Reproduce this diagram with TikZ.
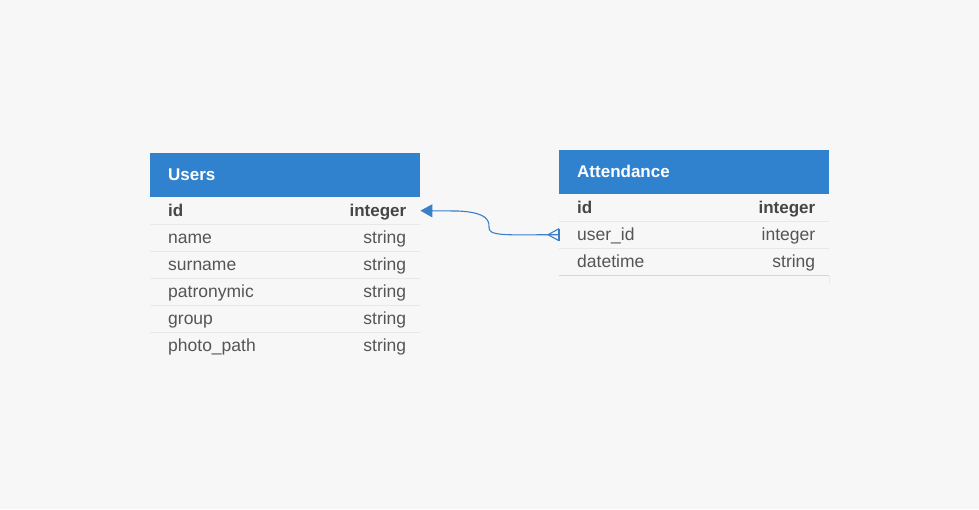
\documentclass[tikz,border=0pt]{standalone}
\usepackage{fontspec}
\setmainfont{Liberation Sans}
\usetikzlibrary{arrows.meta,calc}
\definecolor{bg}{RGB}{247,247,247}
\definecolor{hdr}{RGB}{49,130,206}
\definecolor{txt}{RGB}{85,85,85}
\definecolor{txtb}{RGB}{70,70,70}
\definecolor{sepc}{RGB}{232,232,232}
\definecolor{conn}{RGB}{58,127,200}
\definecolor{lblue}{RGB}{197,217,240}
\begin{document}
\begin{tikzpicture}[x=1pt,y=-1pt,
  hdrbox/.style={fill=hdr,draw=none,minimum width=270pt,minimum height=44pt,anchor=north west,inner sep=0pt},
  hdrtxt/.style={anchor=base west,text=white,font=\fontsize{17}{20}\selectfont\bfseries,inner sep=0pt},
  rowbox/.style={draw=none,minimum width=270pt,minimum height=27pt,anchor=north west,inner sep=0pt},
  lbl/.style={anchor=base west,text=txt,font=\fontsize{17.5}{20}\selectfont,inner sep=0pt},
  typ/.style={anchor=base east,text=txt,font=\fontsize{17.5}{20}\selectfont,inner sep=0pt},
  lblb/.style={anchor=base west,text=txtb,font=\fontsize{17}{20}\selectfont\bfseries,inner sep=0pt},
  typb/.style={anchor=base east,text=txtb,font=\fontsize{17}{20}\selectfont\bfseries,inner sep=0pt},
  sep/.style={draw=sepc,line width=0.8pt},
  connline/.style={draw=conn,line width=1.1pt}
]
\fill[bg] (0,0) rectangle (979,509);
\useasboundingbox (0,0) rectangle (979,509);

% Users table
\node[hdrbox] (uh) at (150,153) {};
\node[hdrtxt] (uht) at ($(uh.west)+(18,5)$) {Users};
\node[rowbox] (u1) at (150,197) {};
\node[rowbox] (u2) at (150,224) {};
\node[rowbox] (u3) at (150,251) {};
\node[rowbox] (u4) at (150,278) {};
\node[rowbox] (u5) at (150,305) {};
\node[rowbox] (u6) at (150,332) {};
\foreach \r in {u1,u2,u3,u4,u5} \draw[sep] (\r.south west) -- (\r.south east);
\node[lblb] (u1l) at ($(u1.west)+(18,6)$) {id};
\node[typb] (u1t) at ($(u1.east)+(-14,6)$) {integer};
\node[lbl] (u2l) at ($(u2.west)+(18,6)$) {name};
\node[typ] (u2t) at ($(u2.east)+(-14,6)$) {string};
\node[lbl] (u3l) at ($(u3.west)+(18,6)$) {surname};
\node[typ] (u3t) at ($(u3.east)+(-14,6)$) {string};
\node[lbl] (u4l) at ($(u4.west)+(18,6)$) {patronymic};
\node[typ] (u4t) at ($(u4.east)+(-14,6)$) {string};
\node[lbl] (u5l) at ($(u5.west)+(18,6)$) {group};
\node[typ] (u5t) at ($(u5.east)+(-14,6)$) {string};
\node[lbl] (u6l) at ($(u6.west)+(18,6)$) {photo\_path};
\node[typ] (u6t) at ($(u6.east)+(-14,6)$) {string};

% Attendance table
\node[hdrbox] (ah) at (559,150) {};
\node[hdrtxt] (aht) at ($(ah.west)+(18,5)$) {Attendance};
\node[rowbox] (a1) at (559,194) {};
\node[rowbox] (a2) at (559,221) {};
\node[rowbox] (a3) at (559,248) {};
\foreach \r in {a1,a2} \draw[sep] (\r.south west) -- (\r.south east);
\draw[draw=lblue,line width=1pt] (a3.south west) -- (a3.south east);
\draw[draw=sepc,line width=0.8pt] ($(a3.south east)+(0,1)$) -- ($(a3.south east)+(0,8)$);
\node[lblb] (a1l) at ($(a1.west)+(18,6)$) {id};
\node[typb] (a1t) at ($(a1.east)+(-14,6)$) {integer};
\node[lbl] (a2l) at ($(a2.west)+(18,6)$) {user\_id};
\node[typ] (a2t) at ($(a2.east)+(-14,6)$) {integer};
\node[lbl] (a3l) at ($(a3.west)+(18,6)$) {datetime};
\node[typ] (a3t) at ($(a3.east)+(-14,6)$) {string};

% connector
\coordinate (cf) at ($(a2.west)+(-11,0)$);
\draw[connline,-{Triangle[length=12pt,width=13pt]}] (a2.west) -- (cf)
  .. controls (505,235) and (488,236) .. (489,227)
  .. controls (490,216) and (478,212) .. (458,211)
  -- (u1.east);
\draw[connline] (cf) -- ($(a2.west)+(0,-6)$);
\draw[connline] (cf) -- ($(a2.west)+(0,6)$);
\draw[connline] ($(a2.west)+(0,-6)$) -- ($(a2.west)+(0,6)$);
\end{tikzpicture}
\end{document}
